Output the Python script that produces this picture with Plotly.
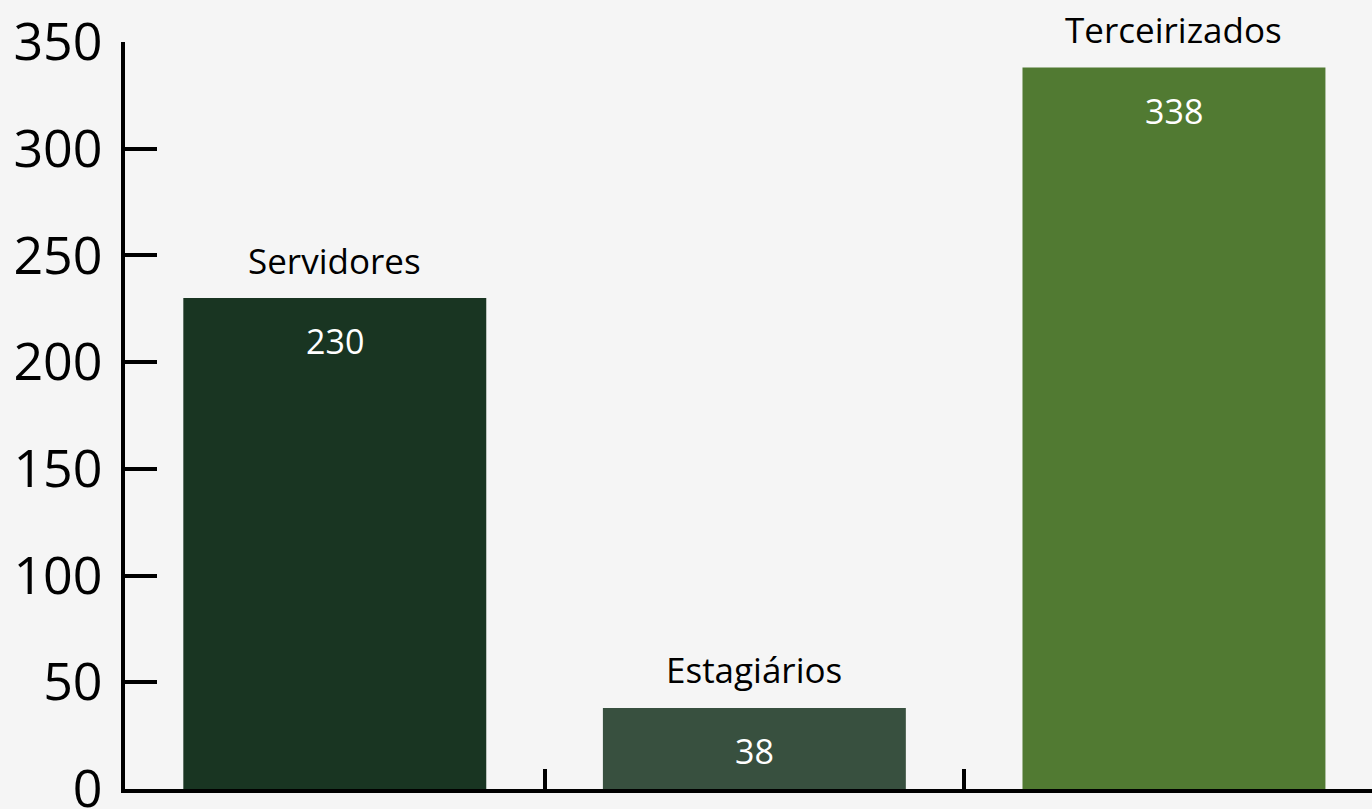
import plotly.graph_objects as go

categories = ["Servidores", "Estagiários", "Terceirizados"]
values = [230, 38, 338]
colors = ["#193522", "#38503f", "#517a32"]
y_ticks = [0, 50, 100, 150, 200, 250, 300, 350]

FONT = "Open Sans"

fig = go.Figure()
fig.add_trace(go.Bar(
    x=categories,
    y=values,
    marker=dict(color=colors, line=dict(width=0)),
    hoverinfo="skip",
))

for cat, val in zip(categories, values):
    fig.add_annotation(
        x=cat, y=val, text=cat, showarrow=False,
        yanchor="middle", yshift=38,
        font=dict(family=FONT, size=35, color="#000000"),
    )
    fig.add_annotation(
        x=cat, y=val, text=str(val), showarrow=False,
        yanchor="middle", yshift=-43,
        font=dict(family=FONT, size=34, color="#ffffff"),
    )

fig.update_layout(
    width=1372, height=809,
    margin=dict(l=125, r=0, t=42, b=20, autoexpand=False),
    paper_bgcolor="#f5f5f5",
    plot_bgcolor="#f5f5f5",
    bargap=0.278,
    showlegend=False,
    font=dict(family=FONT, color="#000000"),
)
fig.update_xaxes(
    type="category",
    range=[-0.5, 2.472],
    showline=True, linecolor="#000000", linewidth=4,
    ticks="inside", tickson="boundaries", ticklen=20, tickwidth=4, tickcolor="#000000",
    showticklabels=False, showgrid=False, zeroline=False,
    automargin=False,
)
fig.update_yaxes(
    range=[0, 350],
    tickvals=y_ticks,
    ticktext=[str(v) for v in y_ticks],
    showline=True, linecolor="#000000", linewidth=4,
    ticks="inside", ticklen=32, tickwidth=4, tickcolor="#000000",
    tickfont=dict(family=FONT, size=52, color="#000000"),
    ticklabelstandoff=8,
    ticklabeloverflow="allow",
    automargin=False,
    showgrid=False, zeroline=False,
)

fig.write_html(
    "out.html",
    config={"displayModeBar": False},
    post_script="document.body.style.margin='0';document.body.style.background='#f5f5f5';",
)
